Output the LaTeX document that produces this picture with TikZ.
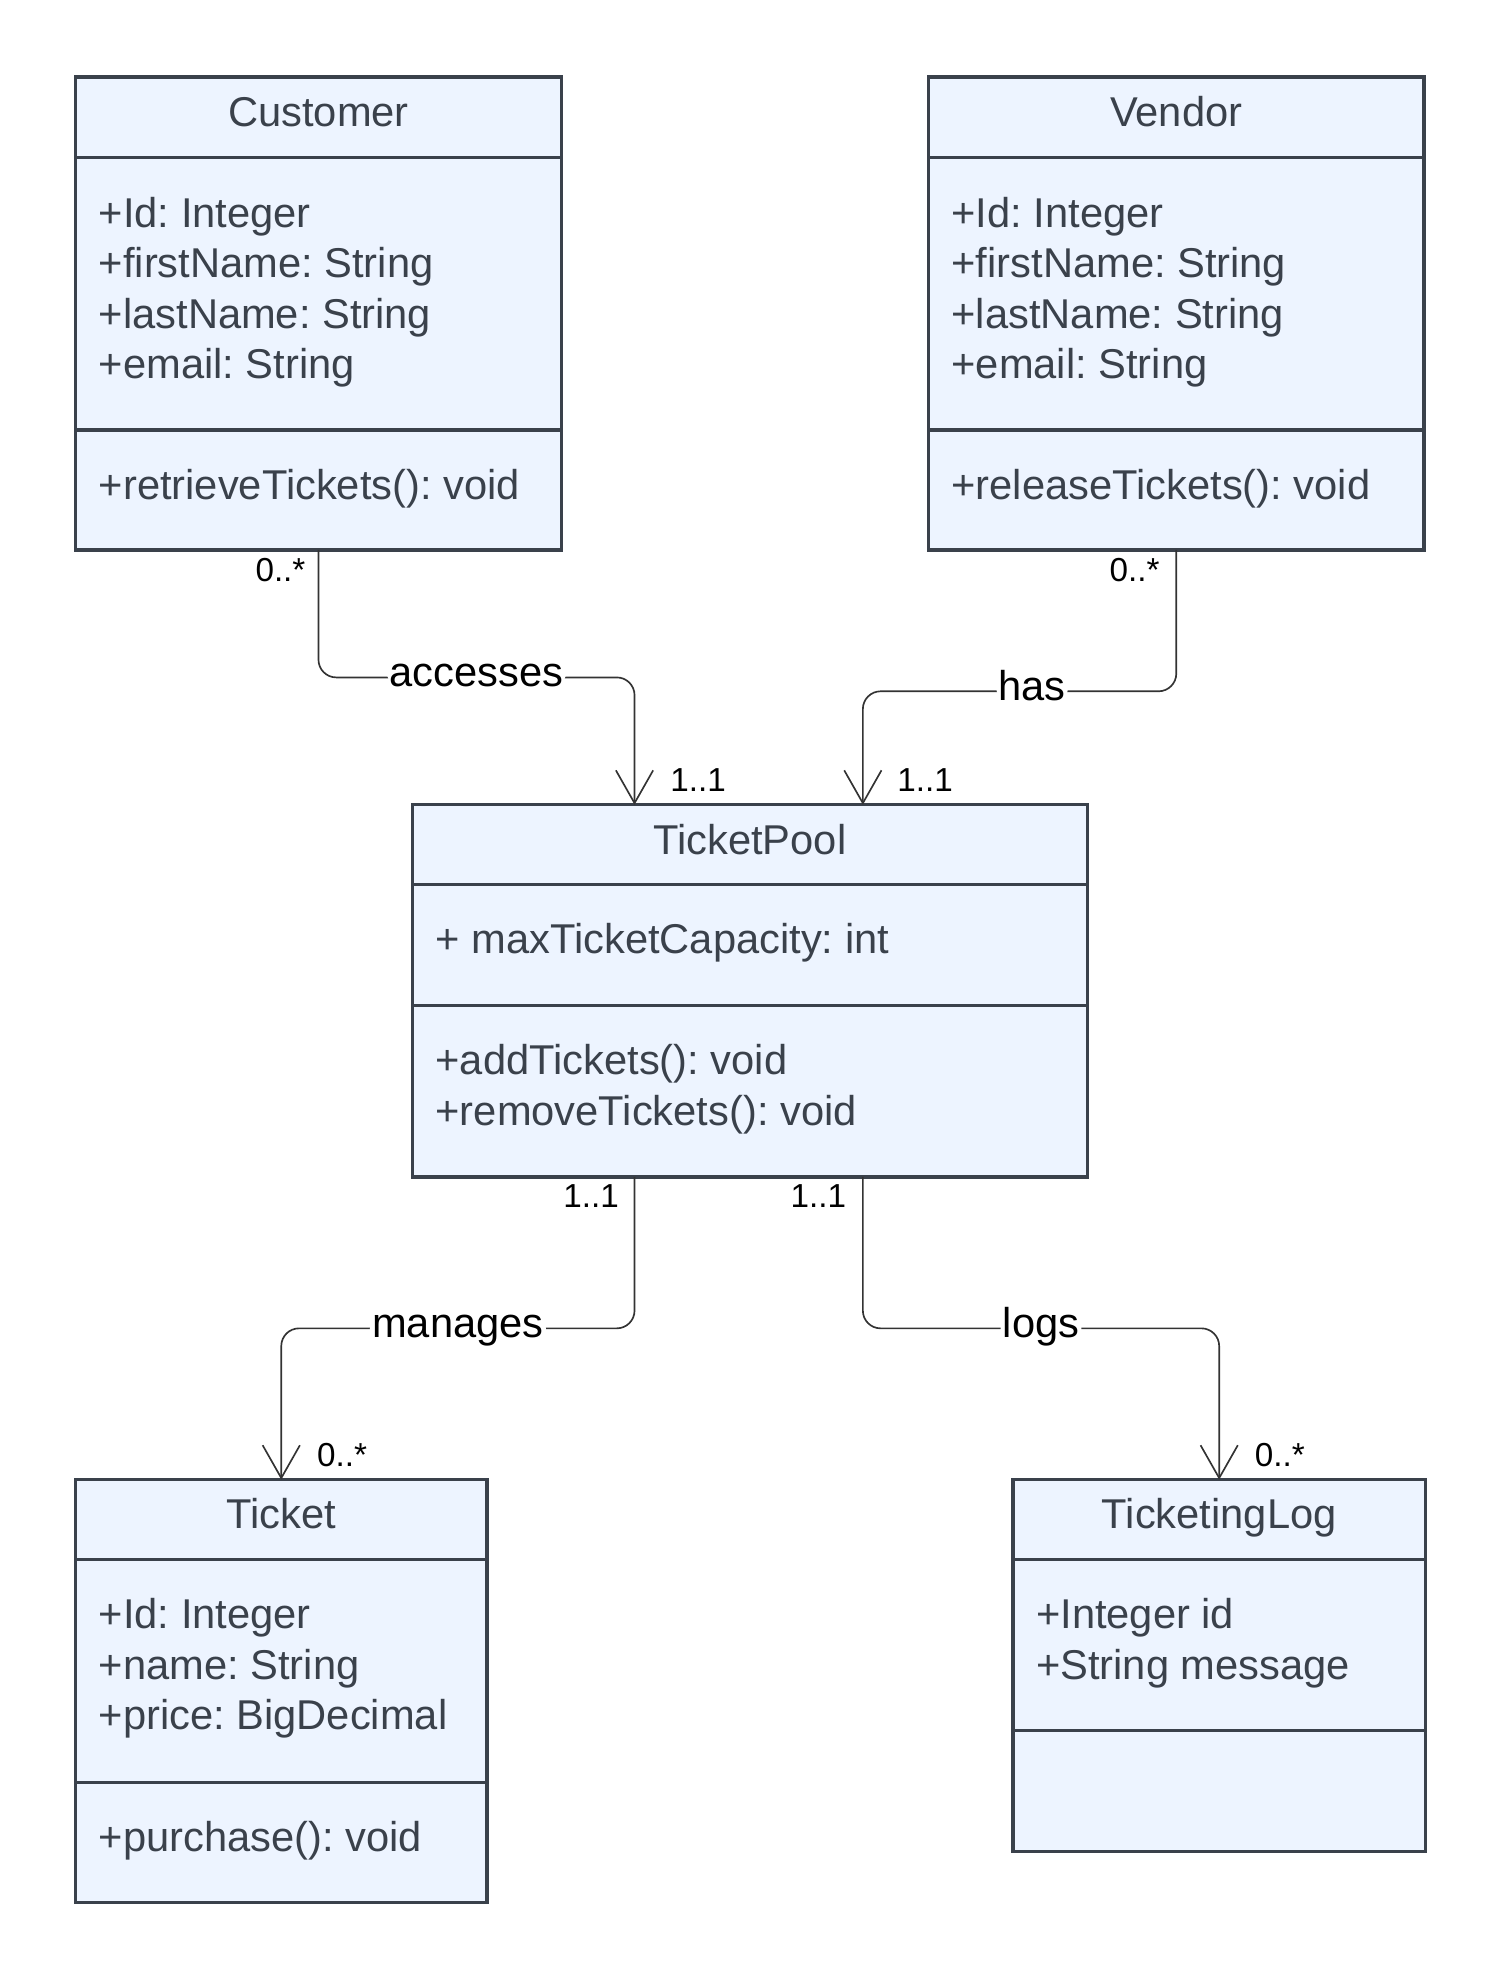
\documentclass[tikz,border=0pt]{standalone}
\usepackage{fontspec}
\setmainfont{Liberation Sans}
\usetikzlibrary{arrows.meta,calc}
\definecolor{fillc}{HTML}{EDF4FF}
\definecolor{bordc}{HTML}{3A414B}
\definecolor{txtc}{HTML}{3A414B}
\definecolor{linec}{HTML}{333333}
\newcommand{\linesbox}[1]{\parbox[t]{9cm}{\raggedright #1}}
\begin{document}
\begin{tikzpicture}[x=0.02cm,y=-0.02cm,
  cmp/.style={draw=bordc, fill=fillc, line width=1.5pt, inner sep=0pt, outer sep=0pt, anchor=north west},
  ctext/.style={text=txtc, inner sep=0pt, font=\fontsize{18.8}{22.8}\selectfont\frenchspacing},
  conn/.style={draw=linec, line width=0.75pt, rounded corners=8pt,
    -{Straight Barb[length=14.8pt,width=16.8pt]}},
  lbl/.style={fill=white, text=black, inner xsep=1pt, inner ysep=2pt, anchor=base, yshift=-4pt,
    font=\fontsize{18.8}{22.8}\selectfont},
  mult/.style={text=black, inner sep=0pt, font=\fontsize{15}{18}\selectfont}]
\useasboundingbox (0,0) rectangle (1189,1568);

% Customer
\node[cmp, minimum width=7.7cm, minimum height=1.28cm] (c1) at (60,61) {};
\node[cmp, minimum width=7.7cm, minimum height=4.32cm] (c2) at (c1.south west) {};
\node[cmp, minimum width=7.7cm, minimum height=1.9cm] (c3) at (c2.south west) {};
\node[ctext, anchor=base] (c1t) at ($(c1.north)+(0,39)$) {Customer};
\node[ctext, anchor=base west] (c2t) at ($(c2.north west)+(18,55)$) {\linesbox{+Id: Integer\\+firstName: String\\+lastName: String\\+email: String}};
\node[ctext, anchor=base west] (c3t) at ($(c3.north west)+(18,55)$) {+retrieveTickets(): void};

% Vendor
\node[cmp, minimum width=7.86cm, minimum height=1.28cm] (v1) at (736,61) {};
\node[cmp, minimum width=7.86cm, minimum height=4.32cm] (v2) at (v1.south west) {};
\node[cmp, minimum width=7.86cm, minimum height=1.9cm] (v3) at (v2.south west) {};
\node[ctext, anchor=base] (v1t) at ($(v1.north)+(0,39)$) {Vendor};
\node[ctext, anchor=base west] (v2t) at ($(v2.north west)+(18,55)$) {\linesbox{+Id: Integer\\+firstName: String\\+lastName: String\\+email: String}};
\node[ctext, anchor=base west] (v3t) at ($(v3.north west)+(18,55)$) {+releaseTickets(): void};

% TicketPool
\node[cmp, minimum width=10.7cm, minimum height=1.26cm] (p1) at (327,638) {};
\node[cmp, minimum width=10.7cm, minimum height=1.92cm] (p2) at (p1.south west) {};
\node[cmp, minimum width=10.7cm, minimum height=2.72cm] (p3) at (p2.south west) {};
\node[ctext, anchor=base] (p1t) at ($(p1.north)+(0,39)$) {TicketPool};
\node[ctext, anchor=base west] (p2t) at ($(p2.north west)+(18,55)$) {+ maxTicketCapacity: int};
\node[ctext, anchor=base west] (p3t) at ($(p3.north west)+(18,55)$) {\linesbox{+addTickets(): void\\+removeTickets(): void}};

% Ticket
\node[cmp, minimum width=6.52cm, minimum height=1.26cm] (t1) at (60,1173) {};
\node[cmp, minimum width=6.52cm, minimum height=3.54cm] (t2) at (t1.south west) {};
\node[cmp, minimum width=6.52cm, minimum height=1.9cm] (t3) at (t2.south west) {};
\node[ctext, anchor=base] (t1t) at ($(t1.north)+(0,39)$) {Ticket};
\node[ctext, anchor=base west] (t2t) at ($(t2.north west)+(18,55)$) {\linesbox{+Id: Integer\\+name: String\\+price: BigDecimal}};
\node[ctext, anchor=base west] (t3t) at ($(t3.north west)+(18,55)$) {+purchase(): void};

% TicketingLog
\node[cmp, minimum width=6.54cm, minimum height=1.26cm] (l1) at (803,1173) {};
\node[cmp, minimum width=6.54cm, minimum height=2.72cm] (l2) at (l1.south west) {};
\node[cmp, minimum width=6.54cm, minimum height=1.92cm] (l3) at (l2.south west) {};
\node[ctext, anchor=base] (l1t) at ($(l1.north)+(0,39)$) {TicketingLog};
\node[ctext, anchor=base west] (l2t) at ($(l2.north west)+(18,55)$) {\linesbox{+Integer id\\+String message}};

% attachment points
\coordinate (pA) at ($(p1.north west)+(176,0)$);
\coordinate (pB) at ($(p1.north west)+(357,0)$);
\coordinate (pC) at ($(p3.south west)+(176,0)$);
\coordinate (pD) at ($(p3.south west)+(357,0)$);

% connectors
\draw[conn] (c3.south) -- (c3.south |- 0,537) -- node[lbl]{accesses} (pA |- 0,537) -- (pA);
\draw[conn] (v3.south) -- (v3.south |- 0,548) -- node[lbl,pos=0.46]{has} (pB |- 0,548) -- (pB);
\draw[conn] (pC) -- (pC |- 0,1053) -- node[lbl]{manages} (t1.north |- 0,1053) -- (t1.north);
\draw[conn] (pD) -- (pD |- 0,1053) -- node[lbl]{logs} (l1.north |- 0,1053) -- (l1.north);

% multiplicities
\node[mult, anchor=north east] (m1) at ($(c3.south)+(-10,6)$) {0..*};
\node[mult, anchor=south west] (m2) at ($(pA)+(28,-10)$) {1..1};
\node[mult, anchor=north east] (m3) at ($(v3.south)+(-13,6)$) {0..*};
\node[mult, anchor=south west] (m4) at ($(pB)+(27,-10)$) {1..1};
\node[mult, anchor=north east] (m5) at ($(pC)+(-12,6)$) {1..1};
\node[mult, anchor=north east] (m6) at ($(pD)+(-13,6)$) {1..1};
\node[mult, anchor=south west] (m7) at ($(t1.north)+(28,-10)$) {0..*};
\node[mult, anchor=south west] (m8) at ($(l1.north)+(28,-10)$) {0..*};
\end{tikzpicture}
\end{document}
